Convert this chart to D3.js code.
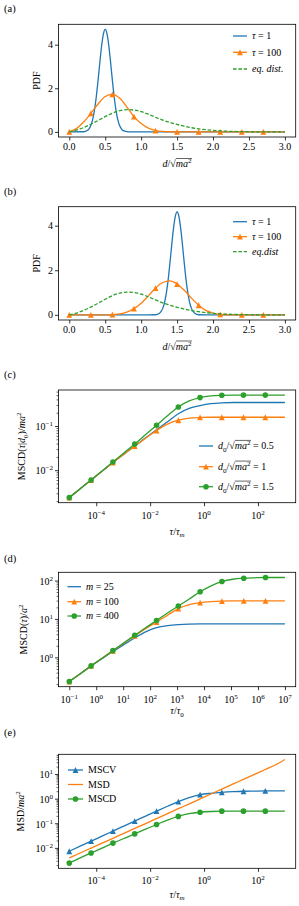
<!DOCTYPE html>
<html>
<head>
<meta charset="utf-8">
<script src="https://cdn.jsdelivr.net/npm/d3@7"></script>
<style>
  body { margin: 0; background: #fff; }
  svg { display: block; font-family: 'Liberation Serif', 'DejaVu Serif', serif; }
</style>
</head>
<body>
<svg id="fig" width="299" height="906"></svg>
<script>
// ---------- data ----------
// (a),(b) distance PDFs, x = d/sqrt(ma^2)
const pdfX = [0, 0.1, 0.2, 0.3, 0.4, 0.5, 0.6, 0.7, 0.8, 0.9, 1.0, 1.1, 1.2, 1.3, 1.4, 1.5,
  1.6, 1.7, 1.8, 1.9, 2.0, 2.1, 2.2, 2.3, 2.4, 2.5, 2.6, 2.7, 2.8, 2.9, 3.0];
const eqDist = [0, 0.08, 0.2, 0.35, 0.52, 0.7, 0.86, 0.97, 1.02, 1.0, 0.93, 0.81, 0.67, 0.54, 0.43, 0.34,
  0.26, 0.19, 0.14, 0.1, 0.07, 0.045, 0.03, 0.02, 0.012, 0.007, 0.004, 0.002, 0.001, 0, 0];
const tau100A = [0, 0.15, 0.45, 0.85, 1.28, 1.62, 1.72, 1.55, 1.15, 0.7, 0.38, 0.17, 0.06, 0.02, 0.005, 0,
  0, 0, 0, 0, 0, 0, 0, 0, 0, 0, 0, 0, 0, 0, 0];
const tau100B = [0, 0, 0, 0, 0, 0, 0.01, 0.04, 0.12, 0.28, 0.52, 0.85, 1.2, 1.45, 1.52, 1.38,
  1.1, 0.75, 0.43, 0.2, 0.08, 0.025, 0.005, 0, 0, 0, 0, 0, 0, 0, 0];
const tau1AX = [0, 0.2, 0.25, 0.275, 0.3, 0.325, 0.35, 0.375, 0.4, 0.425, 0.45, 0.475, 0.5, 0.525,
  0.55, 0.575, 0.6, 0.625, 0.65, 0.675, 0.7, 0.725, 0.75, 0.8, 0.85, 0.9, 3.0];
const tau1AY = [0, 0.005, 0.06, 0.14, 0.29, 0.56, 0.99, 1.59, 2.35, 3.18, 3.95, 4.5, 4.7, 4.5,
  3.95, 3.18, 2.35, 1.59, 0.99, 0.56, 0.29, 0.14, 0.06, 0.015, 0.003, 0, 0];
const tau1BX = [0, 1.1, 1.2, 1.25, 1.275, 1.3, 1.325, 1.35, 1.375, 1.4, 1.425, 1.45, 1.475, 1.5,
  1.525, 1.55, 1.575, 1.6, 1.625, 1.65, 1.675, 1.7, 1.725, 1.75, 1.8, 1.9, 3.0];
const tau1BY = [0, 0, 0.005, 0.06, 0.14, 0.29, 0.55, 0.97, 1.56, 2.31, 3.13, 3.88, 4.42, 4.62,
  4.42, 3.88, 3.13, 2.31, 1.56, 0.97, 0.55, 0.29, 0.14, 0.06, 0.005, 0, 0];
const pdfXTicks = [0, 0.5, 1, 1.5, 2, 2.5, 3];
const pdfYTicks = [0, 2, 4];

// (c),(e) lag times tau/tau_m ; (d) tau/tau_0
const tauM = [1e-5, 2.54e-5, 6.45e-5, 1.64e-4, 4.16e-4, 1.06e-3, 2.68e-3, 6.8e-3, 1.73e-2, 4.4e-2,
  0.111, 0.28, 0.71, 1.79, 4.55, 11.5, 29, 74, 187, 475, 1000];
const tau0 = [0.1, 0.254, 0.645, 1.64, 4.16, 10.6, 26.8, 68, 173, 440, 1110, 2820, 7160, 18200,
  46100, 117000, 297000, 754000, 1.91e6, 4.85e6, 1e7];

const mscdD05 = [0.0024, 0.0038, 0.006, 0.0095, 0.015, 0.023, 0.035, 0.054, 0.082, 0.125, 0.19,
  0.25, 0.29, 0.32, 0.335, 0.34, 0.34, 0.34, 0.34, 0.34, 0.34];
const mscdD10 = [0.0024, 0.0038, 0.006, 0.0095, 0.0148, 0.023, 0.035, 0.053, 0.079, 0.11, 0.135,
  0.15, 0.156, 0.158, 0.158, 0.158, 0.158, 0.158, 0.158, 0.158, 0.158];
const mscdD15 = [0.0024, 0.0038, 0.006, 0.0096, 0.0153, 0.0245, 0.039, 0.064, 0.104, 0.17, 0.27,
  0.37, 0.44, 0.48, 0.495, 0.5, 0.5, 0.5, 0.5, 0.5, 0.5];

const mscdM25 = [0.235, 0.37, 0.59, 0.92, 1.42, 2.15, 3.2, 4.6, 5.9, 6.7, 7.15, 7.35, 7.4, 7.4,
  7.4, 7.4, 7.4, 7.4, 7.4, 7.4, 7.4];
const mscdM100 = [0.235, 0.375, 0.6, 0.95, 1.48, 2.33, 3.65, 5.6, 8.3, 12.5, 18.5, 23.5, 26.6,
  28.3, 29.2, 29.5, 29.6, 29.6, 29.6, 29.6, 29.6];
const mscdM400 = [0.235, 0.375, 0.6, 0.95, 1.5, 2.38, 3.76, 5.9, 9.1, 14.3, 21.7, 33, 51, 73, 94,
  108, 115, 118, 120, 120, 120];

const mscvE = [0.0073, 0.0117, 0.0187, 0.03, 0.048, 0.077, 0.123, 0.195, 0.31, 0.49, 0.76, 1.1,
  1.45, 1.65, 1.8, 1.92, 2.0, 2.03, 2.05, 2.05, 2.05];
const msdE = [0.0039, 0.0062, 0.0098, 0.0155, 0.0245, 0.039, 0.0615, 0.097, 0.154, 0.245, 0.39,
  0.61, 0.97, 1.54, 2.44, 3.86, 6.1, 9.7, 15.3, 24.3, 39];
const mscdE = [0.0024, 0.0039, 0.0062, 0.0098, 0.0156, 0.024, 0.037, 0.058, 0.089, 0.135, 0.19,
  0.245, 0.28, 0.3, 0.31, 0.31, 0.31, 0.31, 0.31, 0.31, 0.31];

const tauMXTicks = [1e-4, 1e-2, 1, 1e2];
const tau0XTicks = [1e-1, 1, 1e1, 1e2, 1e3, 1e4, 1e5, 1e6, 1e7];
const yTicksC = [1e-2, 1e-1];
const yTicksD = [1, 1e1, 1e2];
const yTicksE = [1e-2, 1e-1, 1, 1e1];

// ---------- drawing ----------
const svg = d3.select('#fig');
const COL = { blue: '#1f77b4', orange: '#ff7f0e', green: '#2ca02c' };
const FL = 58.5, FR = 295.7, FS = 10;

// text made of parts: [string, flags]; flags: i italic, sub, sup, o overline (sqrt bar)
function rich(parent, parts, size, attrs) {
  const t = parent.append('text').attr('font-size', size);
  Object.entries(attrs || {}).forEach(([k, v]) => t.attr(k, v));
  let shift = 0, idx = 0;
  const over = [];
  parts.forEach(([s, st = '']) => {
    const isSub = st.includes('sub'), isSup = st.includes('sup');
    const target = isSub ? size * 0.25 : isSup ? -size * 0.4 : 0;
    const ts = t.append('tspan').text(s).attr('dy', (target - shift).toFixed(2));
    shift = target;
    if (st.includes('i')) ts.attr('font-style', 'italic');
    if (isSub || isSup) ts.attr('font-size', size * 0.7);
    if (st.includes('o')) over.push([idx, idx + s.length - 1]);
    idx += s.length;
  });
  if (over.length) {
    const n = t.node();
    const x0 = n.getStartPositionOfChar(over[0][0]).x;
    const x1 = n.getEndPositionOfChar(over[over.length - 1][1]).x + 0.5;
    const y0 = n.getStartPositionOfChar(0).y - size * 0.9;
    parent.append('line').attr('x1', x0).attr('x2', x1).attr('y1', y0).attr('y2', y0)
      .attr('stroke', '#000').attr('stroke-width', 0.6);
  }
  return t;
}

function tri(r) { return `M0,${-r}L${-r},${r}L${r},${r}Z`; }
function drawMarker(g, type, color, cx, cy) {
  if (type === 'tri') {
    g.append('path').attr('d', tri(2.9)).attr('transform', `translate(${cx},${cy})`).attr('fill', color);
  } else if (type === 'circ') {
    g.append('circle').attr('cx', cx).attr('cy', cy).attr('r', 2.8).attr('fill', color);
  }
}

function pad(ext, log) {
  if (log) {
    const a = Math.log10(ext[0]), b = Math.log10(ext[1]), m = (b - a) * 0.05;
    return [Math.pow(10, a - m), Math.pow(10, b + m)];
  }
  const m = (ext[1] - ext[0]) * 0.05;
  return [ext[0] - m, ext[1] + m];
}

function expLabel(v) {
  const e = Math.round(Math.log10(v));
  return [['10'], [String(e).replace('-', '\u2212'), 'sup']];
}

function drawPanel(p) {
  const h = p.bottom - p.top;
  const g = svg.append('g').attr('transform', `translate(0,${p.top})`);
  rich(g, [[p.tag]], 10.5, { x: 4, y: p.tagY - p.top });

  const allX = p.series.flatMap(s => s.x), allY = p.series.flatMap(s => s.y);
  const x = (p.logX ? d3.scaleLog() : d3.scaleLinear()).domain(pad(d3.extent(allX), p.logX)).range([FL, FR]);
  const y = (p.logY ? d3.scaleLog() : d3.scaleLinear()).domain(pad(d3.extent(allY), p.logY)).range([h, 0]);

  // series
  p.series.forEach(s => {
    const pts = s.x.map((v, i) => [v, s.y[i]]);
    g.append('path').datum(pts)
      .attr('d', d3.line().x(d => x(d[0])).y(d => y(d[1])).curve(d3.curveMonotoneX))
      .attr('fill', 'none').attr('stroke', s.color).attr('stroke-width', 1.3)
      .attr('stroke-dasharray', s.dash || null);
    if (s.marker) {
      pts.forEach((d, i) => {
        if (i % s.every === 0 && i < pts.length - 1) drawMarker(g, s.marker, s.color, x(d[0]), y(d[1]));
      });
    }
  });

  // ticks
  const xa = g.append('g').attr('transform', `translate(0,${h})`)
    .call(d3.axisBottom(x).tickValues(p.xTicks).tickSize(3.5).tickFormat(''));
  const ya = g.append('g').attr('transform', `translate(${FL},0)`)
    .call(d3.axisLeft(y).tickValues(p.yTicks).tickSize(3.5).tickFormat(''));
  if (p.logY) {
    const [lo, hi] = y.domain(), minor = [];
    for (let k = Math.floor(Math.log10(lo)); k <= Math.ceil(Math.log10(hi)); k++) {
      for (let m = 2; m <= 9; m++) { const v = m * Math.pow(10, k); if (v >= lo && v <= hi) minor.push(v); }
    }
    g.append('g').attr('transform', `translate(${FL},0)`)
      .call(d3.axisLeft(y).tickValues(minor).tickSize(2).tickFormat(''))
      .call(a => a.selectAll('line').attr('stroke-width', 0.6));
  }
  svg.selectAll('.domain').remove();
  g.selectAll('.tick line').attr('stroke', '#000');
  xa.selectAll('.tick line').attr('stroke-width', 0.8);
  ya.selectAll('.tick line').attr('stroke-width', 0.8);

  p.xTicks.forEach(v => {
    const parts = p.logX ? expLabel(v) : [[d3.format('.1f')(v)]];
    rich(g, parts, FS, { x: x(v), y: h + (p.logX ? 16 : 13.5), 'text-anchor': 'middle' });
  });
  p.yTicks.forEach(v => {
    const parts = p.logY ? expLabel(v) : [[String(v)]];
    rich(g, parts, FS, { x: FL - 5.5, y: y(v) + (p.logY ? 4.3 : 3.4), 'text-anchor': 'end' });
  });

  // axis labels
  rich(g, p.xLabel, FS, { x: (FL + FR) / 2, y: p.xLabelY - p.top, 'text-anchor': 'middle' });
  const yl = g.append('g').attr('transform', `translate(${p.yLabelX},${h / 2}) rotate(-90)`);
  rich(yl, p.yLabel, FS, { x: 0, y: 0, 'text-anchor': 'middle' });

  // frame
  g.append('rect').attr('x', FL).attr('y', 0).attr('width', FR - FL).attr('height', h)
    .attr('fill', 'none').attr('stroke', '#000').attr('stroke-width', 0.8);

  // legend
  const L = p.legend;
  p.series.forEach((s, i) => {
    const yy = L.ys[i] - p.top;
    g.append('line').attr('x1', L.x0).attr('x2', L.x1).attr('y1', yy).attr('y2', yy)
      .attr('stroke', s.color).attr('stroke-width', 1.3).attr('stroke-dasharray', s.dash || null);
    if (s.marker) drawMarker(g, s.marker, s.color, (L.x0 + L.x1) / 2, yy);
    rich(g, s.label, FS, { x: L.tx, y: yy + 3.4 });
  });
}

const sqrtMa = [['d', 'i'], ['/'], ['\u221A'], ['ma', 'io'], ['2', 'supo']];
const d0Label = v => [['d', 'i'], ['0', 'sub'], ['/'], ['\u221A'], ['ma', 'io'], ['2', 'supo'], [' = ' + v]];
const tauLabel = v => [['\u03C4', 'i'], [' = ' + v]];
const mLabel = v => [['m', 'i'], [' = ' + v]];

drawPanel({
  tag: '(a)', tagY: 11.5, top: 24.3, bottom: 137, xLabelY: 167.5, yLabelX: 40,
  xTicks: pdfXTicks, yTicks: pdfYTicks, xLabel: sqrtMa, yLabel: [['PDF']],
  legend: { x0: 233, x1: 247, tx: 252, ys: [36, 52.3, 69] },
  series: [
    { x: tau1AX, y: tau1AY, color: COL.blue, label: tauLabel('1') },
    { x: pdfX, y: tau100A, color: COL.orange, marker: 'tri', every: 3, label: tauLabel('100') },
    { x: pdfX, y: eqDist, color: COL.green, dash: '3.6,1.8', label: [['eq. dist.', 'i']] }
  ]
});
drawPanel({
  tag: '(b)', tagY: 195, top: 206.7, bottom: 320, xLabelY: 350, yLabelX: 40,
  xTicks: pdfXTicks, yTicks: pdfYTicks, xLabel: sqrtMa, yLabel: [['PDF']],
  legend: { x0: 233, x1: 247, tx: 252, ys: [221.7, 236.7, 251.7] },
  series: [
    { x: tau1BX, y: tau1BY, color: COL.blue, label: tauLabel('1') },
    { x: pdfX, y: tau100B, color: COL.orange, marker: 'tri', every: 3, label: tauLabel('100') },
    { x: pdfX, y: eqDist, color: COL.green, dash: '3.6,1.8', label: [['eq.dist', 'i']] }
  ]
});
drawPanel({
  tag: '(c)', tagY: 378, top: 390, bottom: 502.7, xLabelY: 534.5, yLabelX: 25,
  logX: true, logY: true, xTicks: tauMXTicks, yTicks: yTicksC,
  xLabel: [['\u03C4', 'i'], ['/'], ['\u03C4', 'i'], ['m', 'isub']],
  yLabel: [['MSCD('], ['\u03C4', 'i'], ['|'], ['d', 'i'], ['0', 'sub'], [')/'], ['ma', 'i'], ['2', 'sup']],
  legend: { x0: 199, x1: 213, tx: 218, ys: [446, 466.7, 486.7] },
  series: [
    { x: tauM, y: mscdD05, color: COL.blue, label: d0Label('0.5') },
    { x: tauM, y: mscdD10, color: COL.orange, marker: 'tri', every: 2, label: d0Label('1') },
    { x: tauM, y: mscdD15, color: COL.green, marker: 'circ', every: 2, label: d0Label('1.5') }
  ]
});
drawPanel({
  tag: '(d)', tagY: 562, top: 572.3, bottom: 686.7, xLabelY: 714.5, yLabelX: 27,
  logX: true, logY: true, xTicks: tau0XTicks, yTicks: yTicksD,
  xLabel: [['\u03C4', 'i'], ['/'], ['\u03C4', 'i'], ['0', 'sub']],
  yLabel: [['MSCD('], ['\u03C4', 'i'], [')/'], ['a', 'i'], ['2', 'sup']],
  legend: { x0: 67.5, x1: 81, tx: 86, ys: [586.7, 601.7, 616] },
  series: [
    { x: tau0, y: mscdM25, color: COL.blue, label: mLabel('25') },
    { x: tau0, y: mscdM100, color: COL.orange, marker: 'tri', every: 2, label: mLabel('100') },
    { x: tau0, y: mscdM400, color: COL.green, marker: 'circ', every: 2, label: mLabel('400') }
  ]
});
drawPanel({
  tag: '(e)', tagY: 736, top: 754.3, bottom: 868.3, xLabelY: 898, yLabelX: 24,
  logX: true, logY: true, xTicks: tauMXTicks, yTicks: yTicksE,
  xLabel: [['\u03C4', 'i'], ['/'], ['\u03C4', 'i'], ['m', 'isub']],
  yLabel: [['MSD/'], ['ma', 'i'], ['2', 'sup']],
  legend: { x0: 68, x1: 83, tx: 88, ys: [770, 784.5, 799] },
  series: [
    { x: tauM, y: mscvE, color: COL.blue, marker: 'tri', every: 2, label: [['MSCV']] },
    { x: tauM, y: msdE, color: COL.orange, label: [['MSD']] },
    { x: tauM, y: mscdE, color: COL.green, marker: 'circ', every: 2, label: [['MSCD']] }
  ]
});
</script>
</body>
</html>
